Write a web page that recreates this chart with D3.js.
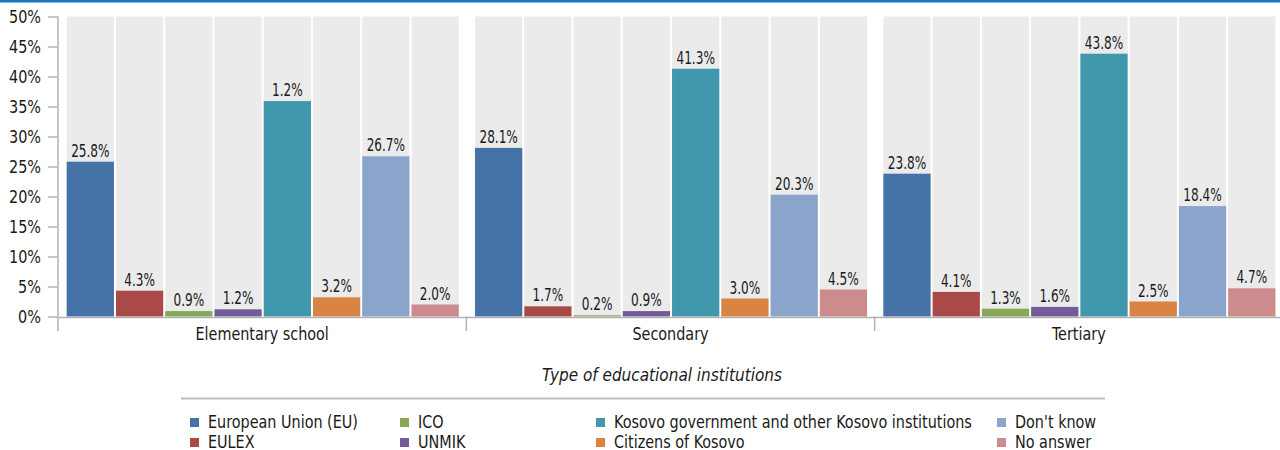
<!DOCTYPE html>
<html>
<head>
<meta charset="utf-8">
<script src="https://cdn.jsdelivr.net/npm/d3@7/dist/d3.min.js"></script>
<style>
  html, body { margin: 0; padding: 0; background: #fff; }
  svg { display: block; }
  text { font-family: "DejaVu Sans Condensed", "Liberation Sans Narrow", sans-serif; fill: #1a1a1a; }
</style>
</head>
<body>
<svg id="chart" width="1280" height="450"></svg>
<script>
// Survey answers by type of educational institution (percent of respondents)
const groups = ["Elementary school", "Secondary", "Tertiary"];
const seriesNames = [
  "European Union (EU)", "EULEX", "ICO", "UNMIK",
  "Kosovo government and other Kosovo institutions", "Citizens of Kosovo",
  "Don't know", "No answer"
];
const seriesColors = ["#4673a7", "#a94a48", "#86a856", "#735c99", "#4197ab", "#da8444", "#8aa4cc", "#cc8c8d"];

const elementaryValues = [25.8, 4.3, 0.9, 1.2, 35.9, 3.2, 26.7, 2.0];
const secondaryValues  = [28.1, 1.7, 0.2, 0.9, 41.3, 3.0, 20.3, 4.5];
const tertiaryValues   = [23.8, 4.1, 1.3, 1.6, 43.8, 2.5, 18.4, 4.7];

// Printed value labels as they appear on the published chart
const elementaryLabels = ["25.8%", "4.3%", "0.9%", "1.2%", "1.2%", "3.2%", "26.7%", "2.0%"];
const secondaryLabels  = ["28.1%", "1.7%", "0.2%", "0.9%", "41.3%", "3.0%", "20.3%", "4.5%"];
const tertiaryLabels   = ["23.8%", "4.1%", "1.3%", "1.6%", "43.8%", "2.5%", "18.4%", "4.7%"];

const yTicks = [0, 5, 10, 15, 20, 25, 30, 35, 40, 45, 50];
const axisTitle = "Type of educational institutions";

const valuesByGroup = [elementaryValues, secondaryValues, tertiaryValues];
const labelsByGroup = [elementaryLabels, secondaryLabels, tertiaryLabels];

const rows = [];
groups.forEach((g, gi) => {
  seriesNames.forEach((s, si) => {
    rows.push({ group: g, series: s, value: valuesByGroup[gi][si], label: labelsByGroup[gi][si], color: seriesColors[si] });
  });
});

// squeeze text horizontally to get a narrow, condensed look
function condense(sel, factor) {
  sel.each(function () {
    const w = this.getComputedTextLength();
    d3.select(this).attr("textLength", w * factor).attr("lengthAdjust", "spacingAndGlyphs");
  });
}

const svg = d3.select("#chart");
const plotLeft = 58, plotRight = 1283, plotTop = 16.5, plotBottom = 316.5;

// header rule
svg.append("rect").attr("x", 0).attr("y", 0).attr("width", 1280).attr("height", 2.5).attr("fill", "#1877c0");

const x0 = d3.scaleBand().domain(groups).range([plotLeft, plotRight]).paddingInner(0).paddingOuter(0);
const x1 = d3.scaleBand().domain(seriesNames).range([8.7, x0.bandwidth() - 7.6]).paddingInner(0.041).paddingOuter(0);
const y = d3.scaleLinear().domain([0, 50]).range([plotBottom, plotTop]);

// background columns
const g = svg.append("g");
g.selectAll("rect.bg").data(rows).join("rect")
  .attr("class", "bg")
  .attr("x", d => x0(d.group) + x1(d.series))
  .attr("width", x1.bandwidth())
  .attr("y", y(50))
  .attr("height", y(0) - y(50))
  .attr("fill", "#ebebeb");

// value bars
g.selectAll("rect.bar").data(rows).join("rect")
  .attr("class", "bar")
  .attr("x", d => x0(d.group) + x1(d.series))
  .attr("width", x1.bandwidth())
  .attr("y", d => y(d.value))
  .attr("height", d => y(0) - y(d.value))
  .attr("fill", d => d.color);

// value labels
const valLabels = g.selectAll("text.val").data(rows).join("text")
  .attr("class", "val")
  .attr("x", d => x0(d.group) + x1(d.series) + x1.bandwidth() / 2)
  .attr("y", d => y(d.value) - 5)
  .attr("text-anchor", "middle")
  .attr("font-size", 17)
  .text(d => d.label);
condense(valLabels, 0.79);

// y axis
const yAxis = d3.axisLeft(y).tickValues(yTicks).tickFormat(d => d + "%").tickSize(10).tickPadding(7);
const ya = svg.append("g").attr("transform", `translate(${plotLeft},0)`).call(yAxis);
ya.select(".domain").remove();
ya.selectAll(".tick line").attr("stroke", "#b3b3b3").attr("stroke-width", 1.5);
ya.selectAll(".tick text").attr("font-size", 18).attr("fill", "#1a1a1a")
  .style("font-family", "'DejaVu Sans Condensed', sans-serif");
condense(ya.selectAll(".tick text"), 0.89);
svg.append("line").attr("x1", plotLeft).attr("x2", plotLeft).attr("y1", plotTop).attr("y2", 331)
  .attr("stroke", "#b3b3b3").attr("stroke-width", 1.5);

// x axis
const xAxis = d3.axisBottom(x0).tickSize(0).tickPadding(11);
const xa = svg.append("g").attr("transform", `translate(0,${plotBottom + 0.5})`).call(xAxis);
xa.select(".domain").attr("stroke", "#b3b3b3").attr("stroke-width", 1.5);
xa.selectAll(".tick text").attr("font-size", 17).attr("fill", "#1a1a1a")
  .style("font-family", "'DejaVu Sans Condensed', sans-serif");
condense(xa.selectAll(".tick text"), 0.94);
svg.selectAll("line.sep").data(groups.slice(1).concat(["end"])).join("line")
  .attr("class", "sep")
  .attr("x1", (d, i) => plotLeft + x0.step() * (i + 1))
  .attr("x2", (d, i) => plotLeft + x0.step() * (i + 1))
  .attr("y1", plotBottom).attr("y2", 331)
  .attr("stroke", "#b3b3b3").attr("stroke-width", 1.5);

svg.append("text")
  .attr("x", 662).attr("y", 381)
  .attr("text-anchor", "middle")
  .attr("font-size", 17).attr("font-style", "italic")
  .text(axisTitle);

// legend
svg.append("line").attr("x1", 181).attr("x2", 1105).attr("y1", 398.5).attr("y2", 398.5)
  .attr("stroke", "#bdbdbd").attr("stroke-width", 2);
const legendCols = [190, 400, 596, 997];
const legend = svg.append("g");
const items = legend.selectAll("g.item").data(seriesNames).join("g")
  .attr("class", "item")
  .attr("transform", (d, i) => `translate(${legendCols[Math.floor(i / 2)]},${i % 2 === 0 ? 418 : 438})`);
items.append("rect").attr("width", 9).attr("height", 9).attr("fill", (d, i) => seriesColors[i]);
const legendText = items.append("text").attr("x", 18).attr("y", 9.5).attr("font-size", 17).text(d => d);
condense(legendText, 0.94);
</script>
</body>
</html>
